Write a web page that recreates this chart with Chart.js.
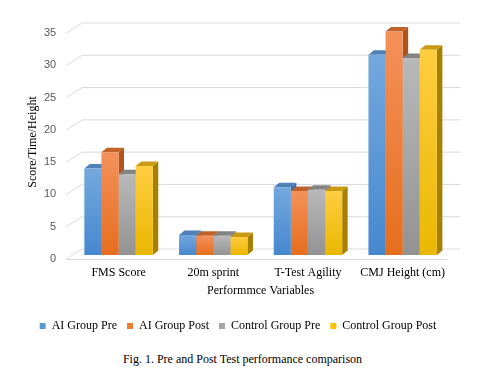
<!DOCTYPE html>
<html>
<head>
<meta charset="utf-8">
<script src="https://cdn.jsdelivr.net/npm/chart.js@4.4.1/dist/chart.umd.min.js"></script>
<style>
  body { margin: 0; background: #fff; width: 485px; height: 379px; overflow: hidden; }
  #wrap { position: absolute; left: 0; top: 0; width: 485px; height: 344px; }
  #caption {
    position: absolute; left: 0; top: 352px; width: 485px;
    text-align: center; font: 12px "Liberation Serif", "Times New Roman", serif; color: #000;
  }
</style>
</head>
<body>
<div id="wrap"><canvas id="chart"></canvas></div>
<div id="caption">Fig. 1. Pre and Post Test performance comparison</div>
<script>
// Pre / post test comparison — 3D-look clustered columns

const categories = ['FMS Score', '20m sprint', 'T-Test Agility', 'CMJ Height (cm)'];
const seriesNames = ['AI Group Pre', 'AI Group Post', 'Control Group Pre', 'Control Group Post'];
const aiPre = [13.4, 3.1, 10.5, 31.0];
const aiPost = [15.9, 3.0, 9.9, 34.6];
const controlPre = [12.5, 3.0, 10.1, 30.5];
const controlPost = [13.8, 2.8, 9.9, 31.8];
const yTicks = [0, 5, 10, 15, 20, 25, 30, 35];

// face colours: front gradient (top, bottom), legend swatch, top face, side face
const frontTop = ['#74a8de', '#f4915a', '#b9b9b9', '#ffcd40'];
const frontBottom = ['#4688cf', '#e66e1e', '#939393', '#eab800'];
const swatch = ['#5b9bd5', '#ed7d31', '#a5a5a5', '#ffc000'];
const topFace = ['#4f80b8', '#c0622a', '#838383', '#c99a14'];
const sideFace = ['#3b6ea6', '#b0531c', '#777777', '#a88000'];

const DX = 5.5, DY = 4.5;

function frontFill(i) {
  return (c) => {
    const chart = c.chart;
    if (!chart.chartArea || c.type !== 'data') return swatch[i];
    const y = chart.scales.y;
    const g = chart.ctx.createLinearGradient(0, y.getPixelForValue(c.raw), 0, y.getPixelForValue(0));
    g.addColorStop(0, frontTop[i]);
    g.addColorStop(1, frontBottom[i]);
    return g;
  };
}

const depthPlugin = {
  id: 'depth3d',
  beforeDatasetsDraw(chart) {
    const { ctx, chartArea, scales: { y } } = chart;
    ctx.save();

    // back wall gridlines with the short floor diagonal
    ctx.strokeStyle = '#d9d9d9';
    ctx.lineWidth = 1;
    yTicks.forEach(v => {
      const py = y.getPixelForValue(v);
      ctx.beginPath();
      ctx.moveTo(chartArea.left - 5, py + 4);
      ctx.lineTo(chartArea.left + 11, py - 6);
      ctx.lineTo(chartArea.right + 10, py - 6);
      ctx.stroke();
    });
    const p0 = Math.round(y.getPixelForValue(0)) + 0.5;
    ctx.beginPath();
    ctx.moveTo(chartArea.left - 5, p0 + 4);
    ctx.lineTo(chartArea.right - 3, p0 + 4);
    ctx.stroke();

    // side + top faces, left to right so the fronts drawn later hide what they should
    for (let j = 0; j < categories.length; j++) {
      chart.data.datasets.forEach((ds, i) => {
        const bar = chart.getDatasetMeta(i).data[j];
        const l = bar.x - bar.width / 2;
        const r = bar.x + bar.width / 2;
        ctx.fillStyle = sideFace[i];
        ctx.beginPath();
        ctx.moveTo(r, bar.y);
        ctx.lineTo(r + DX, bar.y - DY);
        ctx.lineTo(r + DX, bar.base - DY);
        ctx.lineTo(r, bar.base);
        ctx.closePath();
        ctx.fill();
        ctx.fillStyle = topFace[i];
        ctx.beginPath();
        ctx.moveTo(l, bar.y);
        ctx.lineTo(l + DX, bar.y - DY);
        ctx.lineTo(r + DX, bar.y - DY);
        ctx.lineTo(r, bar.y);
        ctx.closePath();
        ctx.fill();
      });
    }
    ctx.restore();
  }
};

const serif = '"Liberation Serif", "Times New Roman", serif';
const values = [aiPre, aiPost, controlPre, controlPost];

new Chart(document.getElementById('chart'), {
  type: 'bar',
  data: {
    labels: categories,
    datasets: values.map((d, i) => ({
      label: seriesNames[i],
      data: d,
      backgroundColor: frontFill(i),
      borderWidth: 0,
      categoryPercentage: 0.7225,
      barPercentage: 1
    }))
  },
  options: {
    responsive: true,
    maintainAspectRatio: false,
    animation: false,
    layout: { padding: { left: 26, right: 35, top: 29, bottom: 2 } },
    plugins: {
      legend: {
        position: 'bottom',
        labels: {
          boxWidth: 6,
          boxHeight: 6,
          padding: 10,
          color: '#000',
          font: { family: serif, size: 12 },
          generateLabels: (chart) => seriesNames.map((n, i) => ({
            text: n, fillStyle: swatch[i], strokeStyle: swatch[i], lineWidth: 0, datasetIndex: i, hidden: false
          }))
        }
      },
      tooltip: { enabled: false }
    },
    scales: {
      x: {
        grid: { display: false, drawTicks: false },
        border: { display: false },
        ticks: { color: '#000', font: { family: serif, size: 12 }, padding: 11 },
        title: {
          display: true,
          text: 'Performmce Variables',
          color: '#000',
          font: { family: serif, size: 12 },
          padding: { top: 2, bottom: 12 }
        },
        afterFit: (s) => { s.height = 55; }
      },
      y: {
        min: 0,
        max: 35,
        grid: { display: false, drawTicks: false },
        border: { display: false },
        ticks: {
          stepSize: 5,
          color: '#595959',
          font: { family: '"Liberation Sans", Arial, sans-serif', size: 11 },
          padding: 15,
          labelOffset: 4
        },
        title: {
          display: true,
          text: 'Score/Time/Height',
          color: '#000',
          font: { family: serif, size: 12 },
          padding: { top: 0, bottom: 0 }
        },
        afterFit: (s) => { s.width = 45.2; }
      }
    }
  },
  plugins: [depthPlugin]
});
</script>
</body>
</html>
